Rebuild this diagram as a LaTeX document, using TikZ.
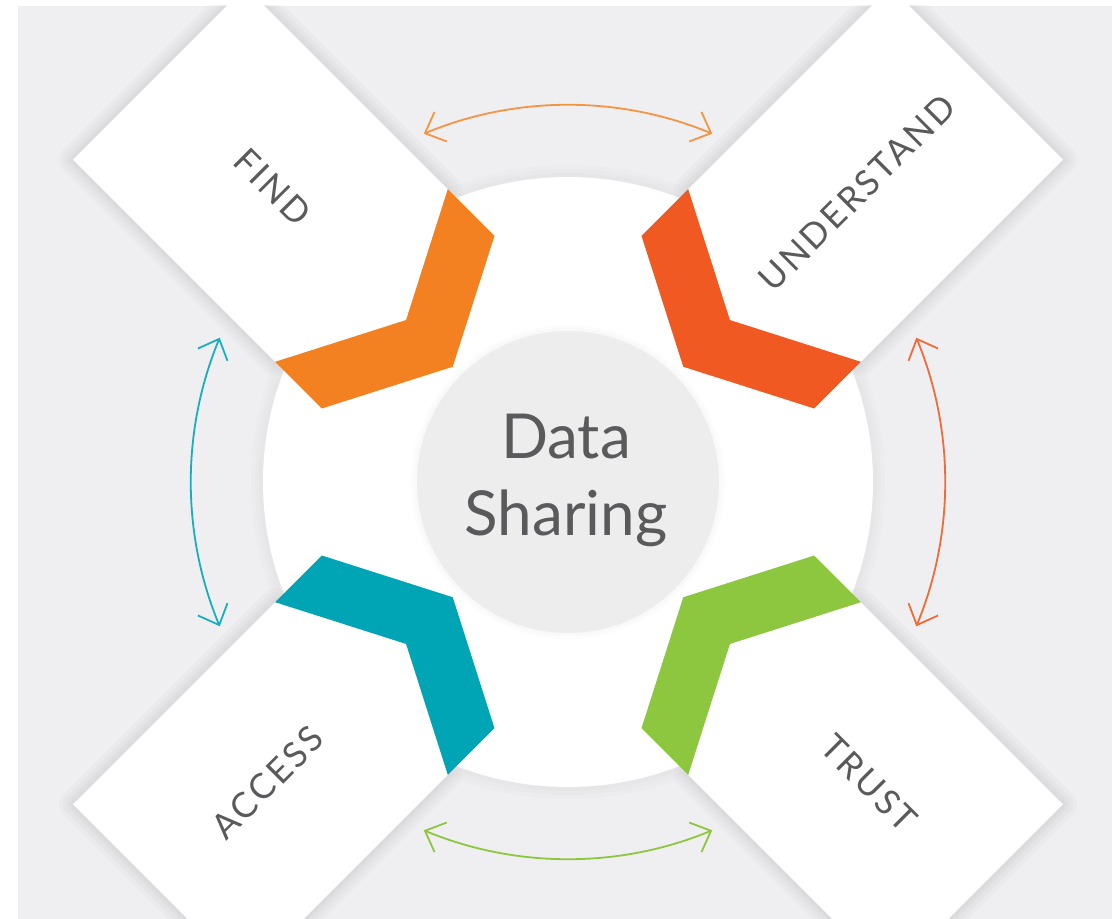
\documentclass[tikz,border=0pt]{standalone}
\usepackage{fontspec}
\setmainfont{Lato}
\usetikzlibrary{arrows.meta}
\definecolor{findc}{HTML}{F38121}
\definecolor{undc}{HTML}{F05A22}
\definecolor{accc}{HTML}{00A5B5}
\definecolor{trustc}{HTML}{8DC63F}
\definecolor{bggray}{HTML}{EFEFF1}
\definecolor{hubgray}{HTML}{EDEDEE}
\definecolor{txtgray}{HTML}{5A5A5C}
\begin{document}
\begin{tikzpicture}[x=1pt,y=1pt,
    lbl/.style={text=txtgray,font=\fontsize{35}{42}\selectfont\addfontfeatures{LetterSpace=8}},
    twoway/.style={line width=1.8pt,{Straight Barb[length=17pt,width=32pt]}-{Straight Barb[length=17pt,width=32pt]}},
    haze/.style={line width=#1,black,opacity=.018,line join=round}]
  \useasboundingbox (-568,-437) rectangle (544,482);
  \fill[white] (-568,-437) rectangle (544,482);
  \clip (-550,-437) rectangle (544,476);
  \fill[bggray] (-550,-437) rectangle (544,476);
  \foreach \w in {24,16,8} \draw[haze=\w,opacity=.012] (0,0) circle[radius=305];
  \fill[white] (0,0) circle[radius=305];
  \foreach \w in {12,6} \draw[haze=\w,opacity=.01] (0,0) circle[radius=151];
  \fill[hubgray] (0,0) circle[radius=151];
  \node[text=txtgray,align=center,font=\fontsize{62}{77}\selectfont] (hub) at (-2,2) {Data\\Sharing};
  \foreach \a/\c in {135/findc,45/undc,225/accc,315/trustc}{
    \begin{scope}[rotate=\a]
      \foreach \w in {28,20,12,6}
        \draw[haze=\w] (229,0) -- (292,122) -- (578,122) -- (578,-122) -- (292,-122) -- cycle;
      \fill[white] (229,0) -- (292,122) -- (578,122) -- (578,-122) -- (292,-122) -- cycle;
      \fill[\c] (292,122) -- (229,0) -- (292,-122) -- (226,-122) -- (163,0) -- (226,122) -- cycle;
    \end{scope}}
  \node[lbl,rotate=-45] (find) at (135:417) {FIND};
  \node[lbl,rotate=45] (understand) at (45:409) {UNDERSTAND};
  \node[lbl,rotate=45] (access) at (225:425) {ACCESS};
  \node[lbl,rotate=-45] (trust) at (315:426) {TRUST};
  \coordinate (find-r) at (112.5:377);
  \coordinate (understand-l) at (67.5:377);
  \coordinate (understand-b) at (22.5:377);
  \coordinate (trust-t) at (-22.5:377);
  \coordinate (trust-l) at (-67.5:377);
  \coordinate (access-r) at (-112.5:377);
  \coordinate (access-t) at (157.5:377);
  \coordinate (find-b) at (202.5:377);
  \draw[twoway,findc!85!white] (find-r) to[bend left=22.5,looseness=.89] (understand-l);
  \draw[twoway,undc!90!white] (understand-b) to[bend left=22.5,looseness=.89] (trust-t);
  \draw[twoway,trustc] (trust-l) to[bend left=22.5,looseness=.89] (access-r);
  \draw[twoway,accc!90!white] (find-b) to[bend left=22.5,looseness=.89] (access-t);
\end{tikzpicture}
\end{document}
